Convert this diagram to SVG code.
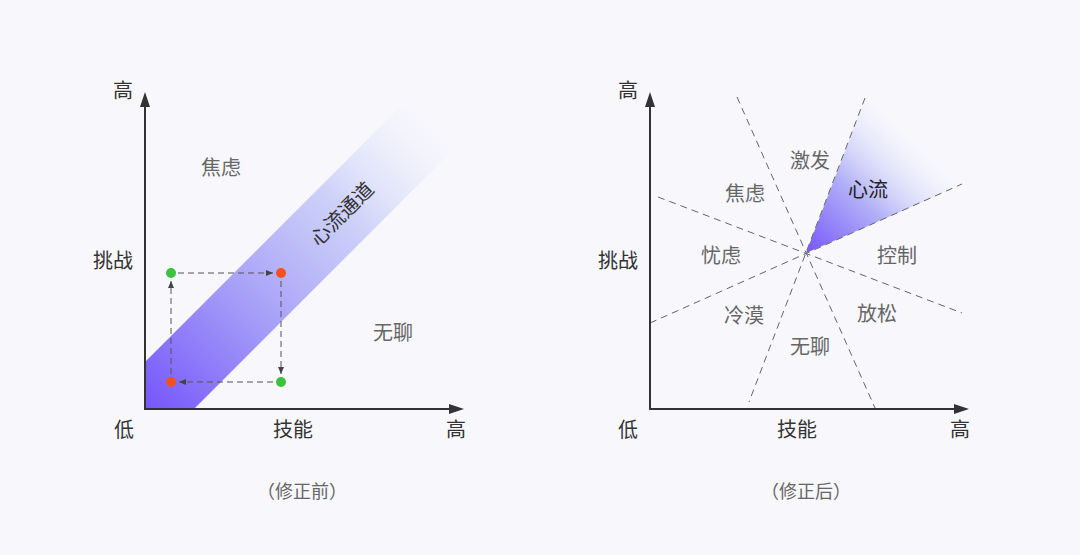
<svg xmlns="http://www.w3.org/2000/svg" width="1080" height="555" viewBox="0 0 1080 555">
<style>
.ax{stroke:#333;stroke-width:2;fill:none}
.ah{fill:#333}
.lab{font-family:"Noto Sans CJK SC","Noto Sans",sans-serif;font-size:20px;fill:#333;text-anchor:middle}
.reg{font-family:"Noto Sans CJK SC","Noto Sans",sans-serif;font-size:20px;fill:#666;text-anchor:middle}
.cap{font-family:"Noto Sans CJK SC","Noto Sans",sans-serif;font-size:18px;fill:#666;text-anchor:middle}
.dash{stroke:#666;stroke-width:1;stroke-dasharray:7 5;fill:none}
.dl{stroke:#555;stroke-width:1;stroke-dasharray:6 4;fill:none}
</style>
<defs>
<linearGradient id="band" gradientUnits="userSpaceOnUse" x1="145" y1="409" x2="430" y2="124">
<stop offset="0" stop-color="#7656fb"/>
<stop offset="0.35" stop-color="#a49cf8"/>
<stop offset="0.7" stop-color="#c6cbf8" stop-opacity="0.85"/>
<stop offset="1" stop-color="#e4e9fb" stop-opacity="0"/>
</linearGradient>
<linearGradient id="wedge" gradientUnits="userSpaceOnUse" x1="806" y1="253" x2="915" y2="140">
<stop offset="0" stop-color="#7656fb"/>
<stop offset="0.5" stop-color="#b3b2f7"/>
<stop offset="1" stop-color="#e4e9fb" stop-opacity="0"/>
</linearGradient>
<marker id="arr" markerUnits="userSpaceOnUse" markerWidth="7" markerHeight="6" refX="7" refY="3" orient="auto">
<path d="M0,0 L7,3 L0,6 z" fill="#444"/>
</marker>
</defs>
<rect width="1080" height="555" fill="#f7f7fc"/>

<g id="left-chart">
<polygon id="flow-channel" points="145,362 145,409 194,409 454,149 406,101" fill="url(#band)"/>
<g id="left-axes">
<path class="ax" d="M145,105 L145,409 L450,409"/>
<polygon class="ah" points="145,92 140,107 150,107"/>
<polygon class="ah" points="464,409 449,404 449,414"/>
</g>
<g id="left-connectors">
<line class="dl" x1="178" y1="273" x2="273" y2="273" marker-end="url(#arr)"/>
<line class="dl" x1="281" y1="281" x2="281" y2="374" marker-end="url(#arr)"/>
<line class="dl" x1="273" y1="382" x2="179" y2="382" marker-end="url(#arr)"/>
<line class="dl" x1="171" y1="374" x2="171" y2="281" marker-end="url(#arr)"/>
</g>
<g id="dots">
<circle id="g1" cx="171" cy="273" r="5" fill="#3cc23c"/>
<circle id="r1" cx="281" cy="273" r="5" fill="#f4511e"/>
<circle id="g2" cx="281" cy="382" r="5" fill="#3cc23c"/>
<circle id="r2" cx="171" cy="382" r="5" fill="#f4511e"/>
</g>
<text class="lab" x="123" y="98">高</text>
<text class="lab" x="113" y="268">挑战</text>
<text class="lab" x="124" y="437">低</text>
<text class="lab" x="293" y="437">技能</text>
<text class="lab" x="456" y="437">高</text>
<text class="reg" x="221" y="175">焦虑</text>
<text class="reg" x="393" y="340">无聊</text>
<text class="lab" x="0" y="0" transform="translate(342,214) rotate(-45) translate(0,7)">心流通道</text>
<text class="cap" x="302" y="498">（修正前）</text>
</g>

<g id="right-chart">
<polygon id="flow-wedge" points="806,253 867,94 966,183" fill="url(#wedge)"/>
<g id="right-connectors">
<line class="dash" x1="737" y1="97" x2="875" y2="408"/>
<line class="dash" x1="865" y1="98" x2="749" y2="402"/>
<line class="dash" x1="658" y1="197" x2="962" y2="313"/>
<line class="dash" x1="650" y1="323" x2="962" y2="184"/>
</g>
<g id="right-axes">
<path class="ax" d="M650,105 L650,409 L955,409"/>
<polygon class="ah" points="650,92 645,107 655,107"/>
<polygon class="ah" points="969,409 954,404 954,414"/>
</g>
<text class="lab" x="628" y="98">高</text>
<text class="lab" x="618" y="268">挑战</text>
<text class="lab" x="628" y="437">低</text>
<text class="lab" x="797" y="437">技能</text>
<text class="lab" x="960" y="437">高</text>
<g id="regions">
<text class="reg" x="810" y="168">激发</text>
<text class="reg" x="745" y="201">焦虑</text>
<text class="reg" x="868" y="197" style="fill:#222">心流</text>
<text class="reg" x="721" y="263">忧虑</text>
<text class="reg" x="897" y="263">控制</text>
<text class="reg" x="744" y="323">冷漠</text>
<text class="reg" x="877" y="321">放松</text>
<text class="reg" x="810" y="354">无聊</text>
</g>
<text class="cap" x="806" y="498">（修正后）</text>
</g>
</svg>
